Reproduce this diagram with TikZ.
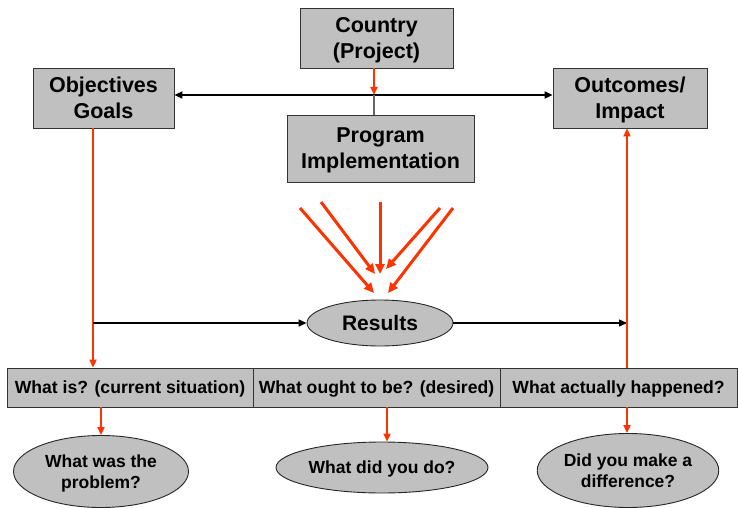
\documentclass[tikz,border=0pt]{standalone}
\usepackage{fontspec}
\setmainfont{Liberation Sans}
\usetikzlibrary{arrows.meta,shapes.geometric}
\definecolor{redor}{HTML}{FF3300}
\definecolor{boxgray}{HTML}{C0C0C0}
\begin{document}
\begin{tikzpicture}[x=1pt,y=-1pt,
  box/.style={draw=black!80,line width=0.9pt,fill=boxgray,inner sep=0pt,align=center,text depth=0pt,
    font=\bfseries\fontsize{21.5}{25.8}\selectfont},
  cell/.style={draw=black!80,line width=0.9pt,fill=boxgray,inner sep=0pt,text depth=0pt,
    font=\bfseries\fontsize{17.6}{20}\selectfont},
  oval/.style={ellipse,draw=black!85,line width=0.9pt,fill=boxgray,inner sep=0pt,align=center,text depth=0pt,
    font=\bfseries\fontsize{17.5}{21}\selectfont},
  redline/.style={draw=redor,line width=2pt},
  redarrow/.style={redline,-{Triangle[length=8pt,width=7pt]}},
  fanarrow/.style={draw=redor,line width=3pt,-{Triangle[length=10pt,width=9pt]}},
  blackarrow/.style={draw=black,line width=1.4pt,-{Triangle[length=8pt,width=7pt]}},
]
\useasboundingbox (0,0) rectangle (738,508);
% boxes
\node[box,minimum width=153pt,minimum height=60pt] (country) at (376.5,38) {Country\\(Project)};
\node[box,minimum width=187pt,minimum height=67pt] (prog) at (380.5,148.5) {Program\\Implementation};
\node[box,minimum width=141pt,minimum height=60pt] (obj) at (103.5,98) {Objectives\\Goals};
\node[box,minimum width=154pt,minimum height=60pt] (out) at (630,98) {Outcomes/\\Impact};
\node[oval,minimum width=146pt,minimum height=46pt,font=\bfseries\fontsize{21}{25}\selectfont] (results) at (380,323) {Results};
% table
\node[cell,minimum width=246pt,minimum height=39pt] (t1) at (130,387.5) {What is? (current situation)};
\node[cell,minimum width=247pt,minimum height=39pt] (t2) at (376.5,387.5) {What ought to be? (desired)};
\node[cell,minimum width=237pt,minimum height=39pt] (t3) at (618.5,387.5) {What actually happened?};
% ellipses
\node[oval,minimum width=175pt,minimum height=72pt] (e1) at (101,471.5) {What was the\\problem?};
\node[oval,minimum width=212pt,minimum height=51pt] (e2) at (382,467.5) {What did you do?};
\node[oval,minimum width=174pt,minimum height=74pt] (e3) at (628,470.5) {Did you make a\\difference?};
% coordinates
\coordinate (cj) at (374,95);
\coordinate (a1) at (93,323);
\coordinate (a2) at (627,323);
\coordinate (b2) at (387,0);
% top connectors
\draw[black,line width=2pt,{Triangle[length=8pt,width=7pt]}-{Triangle[length=8pt,width=7pt]}] (obj.east |- cj) -- (out.west |- cj);
\draw[redarrow] (cj |- country.south) -- (cj);
\draw[draw=black!60,line width=1.2pt] (cj) -- (cj |- prog.north);
% side connectors
\draw[redarrow] (a1 |- obj.south) -- (a1 |- t1.north);
\draw[blackarrow] (a1) -- (results.west);
\draw[blackarrow] (results.east) -- (a2);
\draw[redarrow] (a2 |- t3.north) -- (a2 |- out.south);
% below table
\draw[redarrow] (e1.north |- t1.south) -- (e1.north);
\draw[redarrow] (b2 |- t2.south) -- (b2 |- e2.north);
\draw[redarrow] (a2 |- t3.south) -- (a2 |- e3.north);
% fan
\coordinate (f1) at (300,208); \coordinate (g1) at (374,293);
\coordinate (f2) at (321,202); \coordinate (g2) at (375,274);
\coordinate (f3) at (380,202); \coordinate (g3) at (380,274);
\coordinate (f4) at (440,208); \coordinate (g4) at (386,269);
\coordinate (f5) at (453,208); \coordinate (g5) at (388,293);
\draw[fanarrow] (f1) -- (g1);
\draw[fanarrow] (f2) -- (g2);
\draw[fanarrow] (f3) -- (g3);
\draw[fanarrow] (f4) -- (g4);
\draw[fanarrow] (f5) -- (g5);
\end{tikzpicture}
\end{document}
